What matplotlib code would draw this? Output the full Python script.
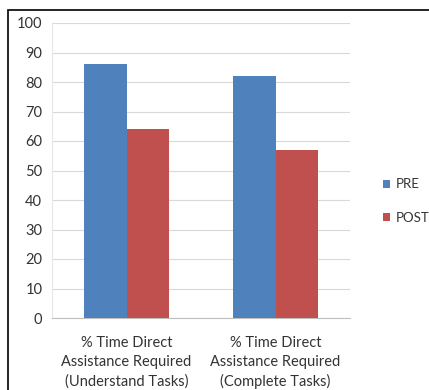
import matplotlib.pyplot as plt
from matplotlib.patches import Rectangle
import numpy as np

categories = ['% Time Direct\nAssistance Required\n(Understand Tasks)',
              '% Time Direct\nAssistance Required\n(Complete Tasks)']
pre = [86, 82]
post = [64, 57]
series_names = ['PRE', 'POST']
colors = ['#4F81BD', '#C0504D']

plt.rcParams['font.family'] = ['Lato', 'DejaVu Sans']

W, H = 429, 390
fig = plt.figure(figsize=(W / 100, H / 100), dpi=100)
ax = fig.add_axes([52 / W, 1 - 318 / H, (350 - 52) / W, (318 - 23) / H])

# outer frame (only top/left edges visible in the picture)
fig.patches.append(Rectangle((8 / W, -0.1), 1.2, 1 - 10 / H + 0.1,
                             transform=fig.transFigure, fill=False,
                             edgecolor='black', linewidth=1.2))

x = np.arange(len(categories))
width = 0.285
ax.bar(x - width / 2, pre, width, color=colors[0], label=series_names[0], zorder=3)
ax.bar(x + width / 2, post, width, color=colors[1], label=series_names[1], zorder=3)

ax.set_xlim(-0.5, 1.5)
ax.set_ylim(0, 100)
ax.set_yticks(range(0, 101, 10))
ax.grid(axis='y', color='#d9d9d9', linewidth=0.8, zorder=0)
ax.set_xticks(x)
ax.set_xticklabels(categories, fontsize=10.5, color='#333333', linespacing=1.45)
ax.tick_params(axis='y', labelsize=10.5, labelcolor='#333333', length=0, pad=7)
ax.tick_params(axis='x', length=0, pad=13)
for s in ['top', 'right', 'left']:
    ax.spines[s].set_visible(False)
ax.spines['bottom'].set_color('#bfbfbf')
ax.spines['left'].set_visible(True)
ax.spines['left'].set_color('#e6e6e6')

ax.legend(loc='center left', bbox_to_anchor=(371 / W, 1 - 201 / H),
          bbox_transform=fig.transFigure, frameon=False, fontsize=9.5,
          handlelength=0.55, handleheight=0.55, handletextpad=0.45,
          labelspacing=1.6, labelcolor='#333333')

fig.savefig('out.png', dpi=100)
